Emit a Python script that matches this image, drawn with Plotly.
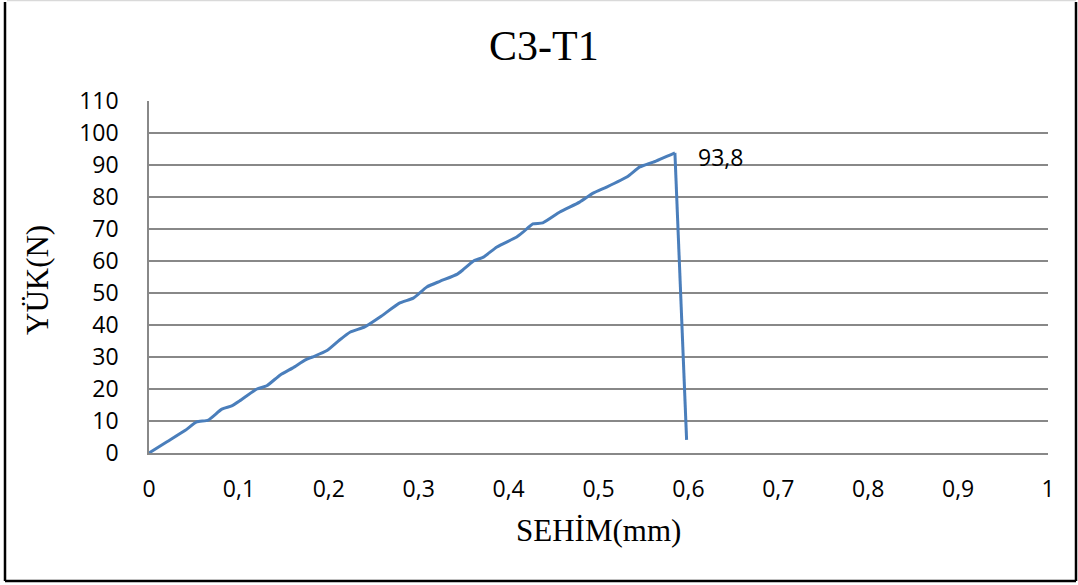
import plotly.graph_objects as go

# Data
sehim_mm = [0, 0.02, 0.04, 0.053, 0.066, 0.081, 0.092, 0.101, 0.12, 0.131, 0.146, 0.16,
            0.174, 0.182, 0.198, 0.212, 0.224, 0.24, 0.257, 0.279, 0.294, 0.309, 0.324,
            0.343, 0.349, 0.361, 0.372, 0.387, 0.409, 0.416, 0.427, 0.438, 0.457, 0.479,
            0.494, 0.509, 0.532, 0.546, 0.561, 0.585, 0.598]
yuk_n = [0, 3.5, 7, 9.7, 10.3, 13.7, 14.7, 16.3, 20, 21, 24.4, 26.6,
         29.1, 30, 32, 35.3, 37.8, 39.4, 42.5, 46.9, 48.4, 51.9, 53.7,
         55.9, 57.2, 60, 61.2, 64.4, 67.5, 69, 71.6, 71.9, 75.3, 78.4,
         81.2, 83.1, 86.3, 89.4, 90.9, 93.8, 4.1]
x_ticks = [0, 0.1, 0.2, 0.3, 0.4, 0.5, 0.6, 0.7, 0.8, 0.9, 1]
x_tick_labels = ["0", "0,1", "0,2", "0,3", "0,4", "0,5", "0,6", "0,7", "0,8", "0,9", "1"]
y_ticks = list(range(0, 111, 10))
peak_label = "93,8"
peak_x = 0.585
peak_y = 93.8

W, H = 1078, 585
L, R, T, B = 149, 30, 101, 132
pw, ph = W - L - R, H - T - B

def px(x):
    return (x - L) / pw

def py(y):
    return (H - B - y) / ph

line_style = dict(color="#4A7EBB", width=3)

fig = go.Figure()
# rising part (smoothed)
fig.add_trace(go.Scatter(
    x=sehim_mm[:-1], y=yuk_n[:-1], mode="lines",
    line=dict(**line_style, shape="spline", smoothing=0.5),
    hoverinfo="x+y", showlegend=False,
))
# failure drop (straight)
fig.add_trace(go.Scatter(
    x=sehim_mm[-2:], y=yuk_n[-2:], mode="lines",
    line=dict(**line_style, shape="linear"),
    hoverinfo="x+y", showlegend=False,
))

tick_font = dict(family="Open Sans, Liberation Sans, sans-serif", size=23, color="#000000")
serif = "Liberation Serif, Times New Roman, serif"

fig.update_layout(
    width=W, height=H,
    margin=dict(l=L, r=R, t=T, b=B, pad=0),
    paper_bgcolor="#FFFFFF", plot_bgcolor="#FFFFFF",
    showlegend=False,
    xaxis=dict(
        range=[0, 1], tickvals=x_ticks, ticktext=x_tick_labels,
        showgrid=False, zeroline=False, showline=True, linecolor="#888888", linewidth=1.5,
        ticks="", tickfont=tick_font, ticklabelstandoff=15, fixedrange=True,
    ),
    yaxis=dict(
        range=[0, 110], tickvals=y_ticks,
        showgrid=True, gridcolor="#888888", gridwidth=1.5,
        zeroline=False, showline=True, linecolor="#888888", linewidth=1.5,
        ticks="", tickfont=tick_font, ticklabelstandoff=24, fixedrange=True,
    ),
    annotations=[
        dict(text="C3-T1", x=px(544), y=py(46), xref="paper", yref="paper",
             showarrow=False, xanchor="center", yanchor="middle",
             font=dict(family=serif, size=42, color="#000000")),
        dict(text="SEHİM(mm)", x=px(598), y=py(530), xref="paper", yref="paper",
             showarrow=False, xanchor="center", yanchor="middle",
             font=dict(family=serif, size=31, color="#000000")),
        dict(text="YÜK(N)", x=px(37), y=py(280), xref="paper", yref="paper",
             showarrow=False, xanchor="center", yanchor="middle", textangle=-90,
             font=dict(family=serif, size=31, color="#000000")),
        dict(text=peak_label, x=peak_x, y=peak_y, xref="x", yref="y",
             showarrow=False, xanchor="left", yanchor="middle", xshift=21, yshift=-4,
             font=tick_font),
    ],
    shapes=[
        dict(type="line", xref="paper", yref="paper", x0=px(5), x1=px(5), y0=py(2), y1=py(581),
             line=dict(color="#000000", width=2.5)),
        dict(type="line", xref="paper", yref="paper", x0=px(5), x1=px(1076), y0=py(581), y1=py(581),
             line=dict(color="#000000", width=2.5)),
        dict(type="line", xref="paper", yref="paper", x0=px(1076), x1=px(1076), y0=py(2), y1=py(581),
             line=dict(color="#000000", width=2.5)),
        dict(type="line", xref="paper", yref="paper", x0=px(7), x1=px(1076), y0=py(0.5), y1=py(0.5),
             line=dict(color="#D9D9D9", width=1.5)),
    ],
)

fig.write_html("out.html")
